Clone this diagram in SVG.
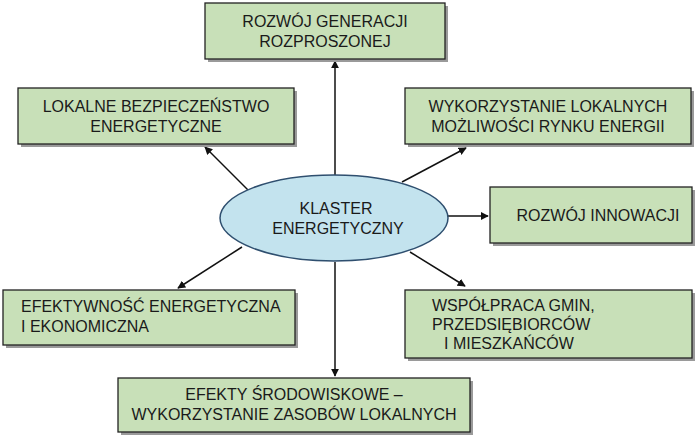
<svg xmlns="http://www.w3.org/2000/svg" width="700" height="439" viewBox="0 0 700 439">
<defs>
<marker id="ah" viewBox="0 0 10 10" refX="9" refY="5" markerWidth="8" markerHeight="8" orient="auto-start-reverse" markerUnits="userSpaceOnUse"><path d="M0,0 L10,5 L0,10 z" fill="#111"/></marker>
</defs>
<style>
.box{fill:#c8e0b8;stroke:#222;stroke-width:1.3}
.sh{fill:#9a9a9a}
text{font-family:"Liberation Sans",Arial,sans-serif;font-size:16px;fill:#1a1a1a;text-anchor:middle}
.l{text-anchor:start}
.c line{stroke:#111;stroke-width:1.5;marker-end:url(#ah)}
</style>
<rect width="700" height="439" fill="#fff"/>
<g class="c" id="connectors">
<line x1="335" y1="175" x2="335" y2="61"/>
<line x1="335" y1="262" x2="335" y2="376"/>
<line x1="248" y1="190" x2="205" y2="147"/>
<line x1="402" y1="182" x2="466" y2="148"/>
<line x1="448" y1="216" x2="488" y2="216"/>
<line x1="242" y1="247" x2="178" y2="288"/>
<line x1="410" y1="252" x2="465" y2="286"/>
</g>
<g id="n1"><rect class="sh" x="208" y="6" width="240" height="56"/><rect class="box" x="205" y="3" width="240" height="56"/><text x="325" y="27">ROZWÓJ GENERACJI</text><text x="325" y="47">ROZPROSZONEJ</text></g>
<g id="n2"><rect class="sh" x="21" y="91" width="276" height="56"/><rect class="box" x="18" y="88" width="276" height="56"/><text x="156" y="112">LOKALNE BEZPIECZEŃSTWO</text><text x="156" y="132">ENERGETYCZNE</text></g>
<g id="n3"><rect class="sh" x="408" y="91" width="286" height="56"/><rect class="box" x="405" y="88" width="286" height="56"/><text x="548" y="112">WYKORZYSTANIE LOKALNYCH</text><text x="548" y="132">MOŻLIWOŚCI RYNKU ENERGII</text></g>
<g id="n4"><rect class="sh" x="493" y="190" width="202" height="56"/><rect class="box" x="490" y="187" width="202" height="56"/><text x="598" y="221">ROZWÓJ INNOWACJI</text></g>
<g id="n5"><rect class="sh" x="6" y="293" width="292" height="55"/><rect class="box" x="3" y="290" width="292" height="55"/><text class="l" x="21" y="312">EFEKTYWNOŚĆ ENERGETYCZNA</text><text class="l" x="21" y="332">I EKONOMICZNA</text></g>
<g id="n6"><rect class="sh" x="408" y="293" width="287" height="68"/><rect class="box" x="405" y="290" width="287" height="68"/><text class="l" x="432" y="311">WSPÓŁPRACA GMIN,</text><text class="l" x="432" y="330">PRZEDSIĘBIORCÓW</text><text class="l" x="444" y="349">I MIESZKAŃCÓW</text></g>
<g id="n7"><rect class="sh" x="121" y="381" width="352" height="54"/><rect class="box" x="118" y="378" width="352" height="54"/><text x="294" y="400">EFEKTY ŚRODOWISKOWE –</text><text x="294" y="420">WYKORZYSTANIE ZASOBÓW LOKALNYCH</text></g>
<g id="center"><ellipse cx="334" cy="218" rx="114" ry="43" fill="#c3e3ee" stroke="#2f4f6f" stroke-width="1.5"/><text x="336" y="214">KLASTER</text><text x="338" y="234">ENERGETYCZNY</text></g>
</svg>
